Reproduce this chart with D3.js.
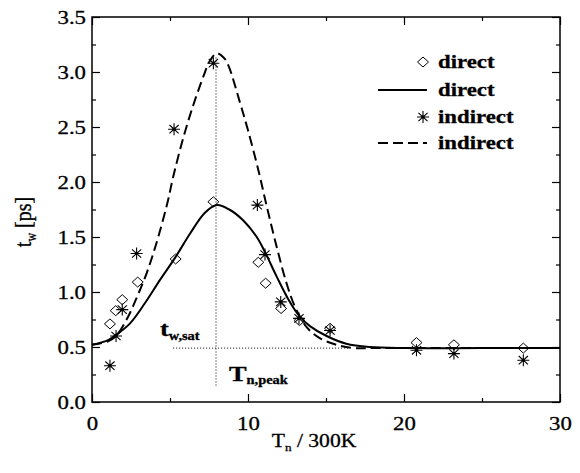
<!DOCTYPE html>
<meta charset="utf-8">
<style>

body { margin: 0; background: #fff; }

svg text { font-family: "Liberation Serif", "Times New Roman", serif; fill: #000; stroke: #000; stroke-width: 0.3px; }
.frame { fill: none; stroke: #000; stroke-width: 1.5px; }
.fit { fill: none; stroke: #000; stroke-width: 2px; }
.fit.dashed { stroke-dasharray: 10,5; }
.guide { stroke: #000; stroke-width: 1px; stroke-dasharray: 1,2; }
.diamond { fill: none; stroke: #000; stroke-width: 1px; }
.star { fill: none; stroke: #000; stroke-width: 1.1px; }
.legend { font-size: 19px; font-weight: bold; }

</style>
<body>
<script src="https://d3js.org/d3.v7.min.js"></script>
<script>

// measured points
var directX = [1.15, 1.52, 1.94, 2.93, 5.36, 7.78, 10.66, 11.13, 12.12, 13.3, 15.26, 20.8, 23.2, 27.65];
var directY = [0.71, 0.83, 0.93, 1.09, 1.30, 1.82, 1.27, 1.08, 0.85, 0.74, 0.67, 0.54, 0.52, 0.49];

var indirectX = [1.15, 1.54, 1.94, 2.86, 5.26, 7.78, 10.6, 11.09, 12.1, 13.27, 15.26, 20.8, 23.2, 27.65];
var indirectY = [0.33, 0.60, 0.84, 1.35, 2.48, 3.08, 1.79, 1.34, 0.91, 0.76, 0.65, 0.47, 0.44, 0.38];

// fitted curves
var directFitX = [0, 1, 1.54, 2.44, 3.4, 4.36, 5.32, 6.28, 7.24, 8.0, 8.8, 9.7, 10.56, 11.1, 11.84, 12.6, 13.3, 13.97, 15.04, 16.3, 17.8, 20, 25, 30];
var directFitY = [0.52, 0.56, 0.61, 0.715, 0.90, 1.11, 1.31, 1.53, 1.72, 1.79, 1.75, 1.65, 1.50, 1.36, 1.14, 0.93, 0.78, 0.69, 0.60, 0.53, 0.50, 0.49, 0.49, 0.49];

var indirectFitX = [0, 1, 1.54, 2.33, 2.9, 3.5, 4.1, 4.8, 5.21, 5.75, 6.38, 7.14, 7.55, 8.0, 8.45, 8.74, 9.49, 10.0, 10.66, 11.2, 11.84, 12.47, 13.0, 13.76, 14.6, 15.68, 16.75, 18, 30];
var indirectFitY = [0.52, 0.55, 0.60, 0.78, 0.96, 1.17, 1.43, 1.79, 2.05, 2.35, 2.65, 2.96, 3.10, 3.17, 3.13, 3.06, 2.72, 2.47, 2.11, 1.78, 1.41, 1.08, 0.87, 0.68, 0.58, 0.52, 0.49, 0.49, 0.49];

// guide lines: T_n,peak and t_w,sat
var peakX = 7.95, peakYRange = [0.15, 3.15];
var satY = 0.49, satXRange = [5.2, 16.5];

var xTicksMajor = [0, 10, 20, 30];
var xTicksMinor = [5, 15, 25];
var yTicksMajor = [0, 0.5, 1, 1.5, 2, 2.5, 3, 3.5];
var yTicksMinor = [0.25, 0.75, 1.25, 1.75, 2.25, 2.75, 3.25];

var legendLabels = ["direct", "direct", "indirect", "indirect"];
var legendKinds = ["diamond", "line", "star", "dashed"];

var width = 580, height = 473;
var stretch = "scale(1.2,1)";
var serif = '"Liberation Serif", "Times New Roman", serif';

var x = d3.scaleLinear().domain([0, 30]).range([92, 560]);
var y = d3.scaleLinear().domain([0, 3.5]).range([402, 17]);

var svg = d3.select("body").append("svg")
    .attr("width", width)
    .attr("height", height);

function zip(a, b) { return a.map(function(d, i) { return [d, b[i]]; }); }

// axes, ticks pointing inward
function axis(gen, pos, vals, size, labels) {
  var g = svg.append("g")
      .attr("transform", pos)
      .call(gen.tickValues(vals).tickSize(-size).tickPadding(labels ? labels.pad : 0)
        .tickFormat(labels ? labels.fmt : ""));
  g.attr("font-family", serif).attr("font-size", 19);
  g.select(".domain").remove();
  g.selectAll("line").attr("stroke-width", 1.2);
  g.selectAll("text")
      .style("font-family", serif)
      .style("font-size", "19px")
      .attr("transform", stretch);
  return g;
}

axis(d3.axisBottom(x), "translate(0," + y(0) + ")", xTicksMajor, 8, {pad: 15, fmt: d3.format("d")});
axis(d3.axisBottom(x), "translate(0," + y(0) + ")", xTicksMinor, 4);
axis(d3.axisTop(x), "translate(0," + y(3.5) + ")", xTicksMajor, 8);
axis(d3.axisTop(x), "translate(0," + y(3.5) + ")", xTicksMinor, 4);
axis(d3.axisLeft(y), "translate(" + x(0) + ",0)", yTicksMajor, 8, {pad: 5, fmt: d3.format(".1f")});
axis(d3.axisLeft(y), "translate(" + x(0) + ",0)", yTicksMinor, 4);
axis(d3.axisRight(y), "translate(" + x(30) + ",0)", yTicksMajor, 8);
axis(d3.axisRight(y), "translate(" + x(30) + ",0)", yTicksMinor, 4);

svg.append("rect")
    .attr("class", "frame")
    .attr("x", x(0))
    .attr("y", y(3.5))
    .attr("width", x(30) - x(0))
    .attr("height", y(0) - y(3.5));

// guides
svg.append("line").attr("class", "guide")
    .attr("x1", x(peakX)).attr("x2", x(peakX))
    .attr("y1", y(peakYRange[0])).attr("y2", y(peakYRange[1]));
svg.append("line").attr("class", "guide")
    .attr("x1", x(satXRange[0])).attr("x2", x(satXRange[1]))
    .attr("y1", y(satY)).attr("y2", y(satY));

// fits
var line = d3.line()
    .x(function(d) { return x(d[0]); })
    .y(function(d) { return y(d[1]); })
    .curve(d3.curveCatmullRom.alpha(0.5));

svg.append("path").attr("class", "fit")
    .attr("d", line(zip(directFitX, directFitY)));
svg.append("path").attr("class", "fit dashed")
    .attr("d", line(zip(indirectFitX, indirectFitY)));

// markers
var diamondPath = "M0,-5L5.5,0L0,5L-5.5,0Z";
var starPath = "M0,-6V6M-6,0H6M-4.6,-4.2L4.6,4.2M-4.6,4.2L4.6,-4.2";

function star(g) {
  g.append("path").attr("class", "star").attr("d", starPath);
  g.append("circle").attr("r", 1.6).attr("fill", "#000");
}

svg.append("g").selectAll("path")
    .data(zip(directX, directY))
  .enter().append("path")
    .attr("class", "diamond")
    .attr("d", diamondPath)
    .attr("transform", function(d) { return "translate(" + x(d[0]) + "," + y(d[1]) + ")"; });

svg.append("g").selectAll("g")
    .data(zip(indirectX, indirectY))
  .enter().append("g")
    .attr("transform", function(d) { return "translate(" + x(d[0]) + "," + y(d[1]) + ")"; })
    .call(star);

// legend
var legendRows = [62, 90, 117, 143];
var leg = svg.append("g");
legendLabels.forEach(function(label, i) {
  var ry = legendRows[i], k = legendKinds[i];
  if (k == "diamond") {
    leg.append("path").attr("class", "diamond").attr("d", diamondPath)
        .attr("transform", "translate(423," + ry + ")");
  } else if (k == "star") {
    leg.append("g").attr("transform", "translate(423," + ry + ")").call(star);
  } else {
    leg.append("line").attr("class", k == "line" ? "fit" : "fit dashed")
        .attr("x1", 378).attr("x2", 427).attr("y1", ry).attr("y2", ry);
  }
  leg.append("text").attr("class", "legend")
      .attr("transform", "translate(438," + (ry + 6) + ") " + stretch)
      .text(label);
});

// annotations
var tsat = svg.append("text")
    .attr("transform", "translate(160,336) " + stretch)
    .style("font-size", "22px").style("font-weight", "bold")
    .text("t");
tsat.append("tspan").attr("dy", 4).style("font-size", "12px").text("w,sat");

var tpeak = svg.append("text")
    .attr("transform", "translate(229,381) " + stretch)
    .style("font-size", "22px").style("font-weight", "bold")
    .text("T");
tpeak.append("tspan").attr("dy", 3).style("font-size", "12px").text("n,peak");

// axis titles
var xt = svg.append("text")
    .attr("transform", "translate(314,447) " + stretch)
    .attr("text-anchor", "middle")
    .style("font-size", "18px")
    .text("T");
xt.append("tspan").attr("dy", 4).style("font-size", "11px").text("n");
xt.append("tspan").attr("dy", -4).text(" / 300K");

var yt = svg.append("text")
    .attr("transform", "translate(31,222) rotate(-90) scale(1,1.2)")
    .attr("text-anchor", "middle")
    .style("font-size", "20px")
    .text("t");
yt.append("tspan").attr("dy", 4).style("font-size", "12px").text("w");
yt.append("tspan").attr("dy", -4).text(" [ps]");

</script>
